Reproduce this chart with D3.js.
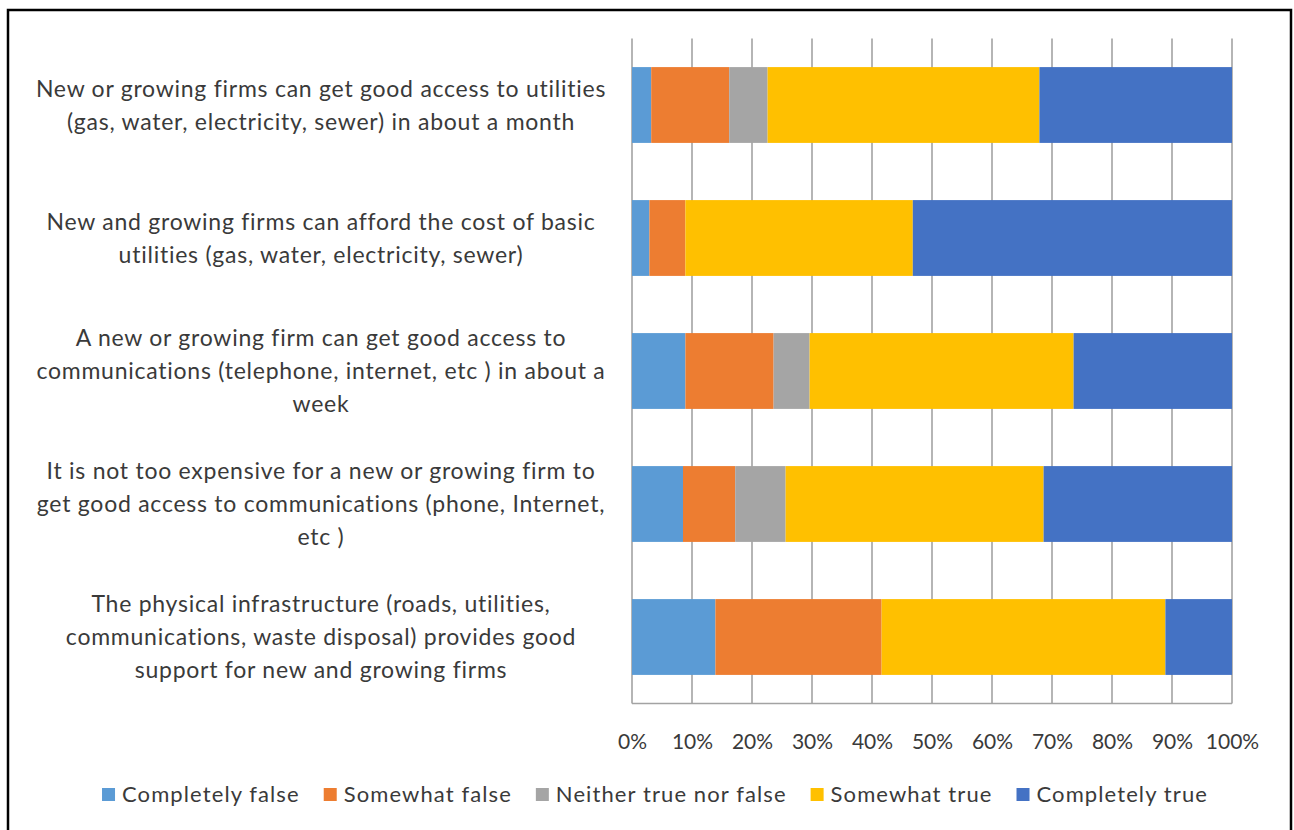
<!DOCTYPE html>
<html>
<head>
<meta charset="utf-8">
<script src="https://cdn.jsdelivr.net/npm/d3@7"></script>
<style>
  html, body { margin: 0; padding: 0; background: #fff; }
  svg { display: block; }
  text { font-family: Lato, "Open Sans", sans-serif; fill: #3a3a3a; }
</style>
</head>
<body>
<svg id="chart" width="1294" height="830"></svg>
<script>
// Survey statements (one bar each), top to bottom; "\n" marks a line break
const categories = [
  "New or growing firms can get good access to utilities\n(gas, water, electricity, sewer) in about a month",
  "New and growing firms can afford the cost of basic\nutilities (gas, water, electricity, sewer)",
  "A new or growing firm can get good access to\ncommunications (telephone, internet, etc ) in about a\nweek",
  "It is not too expensive for a new or growing firm to\nget good access to communications (phone, Internet,\netc )",
  "The physical infrastructure (roads, utilities,\ncommunications, waste disposal) provides good\nsupport for new and growing firms"
];

// Response shares, percent of respondents per statement
const seriesNames = ["Completely false", "Somewhat false", "Neither true nor false", "Somewhat true", "Completely true"];
const completelyFalse = [3.2, 2.9, 8.9, 8.5, 13.9];
const somewhatFalse   = [13.0, 6.0, 14.7, 8.7, 27.7];
const neitherTF       = [6.4, 0.0, 6.0, 8.4, 0.0];
const somewhatTrue    = [45.3, 37.9, 44.0, 43.0, 47.3];
const completelyTrue  = [32.1, 53.2, 26.4, 31.4, 11.1];

const tickValues = [0, 10, 20, 30, 40, 50, 60, 70, 80, 90, 100];
const tickLabels = ["0%", "10%", "20%", "30%", "40%", "50%", "60%", "70%", "80%", "90%", "100%"];

const seriesColors = ["#5B9BD5", "#ED7D31", "#A5A5A5", "#FFC000", "#4472C4"];

// Build rows for d3.stack
const seriesValues = [completelyFalse, somewhatFalse, neitherTF, somewhatTrue, completelyTrue];
const rows = categories.map((c, i) => {
  const r = { category: c };
  seriesNames.forEach((s, k) => { r[s] = seriesValues[k][i]; });
  return r;
});
const stacked = d3.stack().keys(seriesNames)(rows);

const svg = d3.select("#chart");

// Chart frame
svg.append("rect")
  .attr("x", 8).attr("y", 10)
  .attr("width", 1283).attr("height", 840)
  .attr("fill", "#fff")
  .attr("stroke", "#000").attr("stroke-width", 2.5);

const plot = { left: 632, right: 1232, top: 38.5, bottom: 703.5 };

const x = d3.scaleLinear().domain([0, 100]).range([plot.left, plot.right]);
const y = d3.scaleBand().domain(categories)
  .range([plot.top, plot.bottom])
  .paddingInner(0.43).paddingOuter(0.215);

// Vertical gridlines (including the category axis at 0%)
svg.append("g")
  .selectAll("line")
  .data(tickValues)
  .join("line")
  .attr("x1", d => x(d)).attr("x2", d => x(d))
  .attr("y1", plot.top).attr("y2", plot.bottom)
  .attr("stroke", "#a3a3a3").attr("stroke-width", 1.6);

// Bottom edge of the plot area
svg.append("line")
  .attr("x1", plot.left).attr("x2", plot.right)
  .attr("y1", plot.bottom).attr("y2", plot.bottom)
  .attr("stroke", "#a3a3a3").attr("stroke-width", 1.6);

// Stacked bars
svg.append("g")
  .selectAll("g")
  .data(stacked)
  .join("g")
  .attr("fill", (d, i) => seriesColors[i])
  .selectAll("rect")
  .data(d => d)
  .join("rect")
  .attr("x", d => x(d[0]))
  .attr("width", d => x(d[1]) - x(d[0]))
  .attr("y", d => y(d.data.category))
  .attr("height", y.bandwidth());

// X axis tick labels
const xAxis = d3.axisBottom(x)
  .tickValues(tickValues)
  .tickFormat((d, i) => tickLabels[i])
  .tickSize(0)
  .tickPadding(0);
const gx = svg.append("g")
  .attr("transform", `translate(0, ${plot.bottom})`)
  .call(xAxis);
gx.select(".domain").remove();
gx.selectAll("text")
  .attr("y", 45)
  .attr("dy", null)
  .attr("font-family", "Lato, sans-serif")
  .attr("font-size", 21)
  .attr("fill", "#3a3a3a");

// Category labels, centred to the left of the bars
const labelX = 321;
const lineH = 33;
const labels = svg.append("g")
  .selectAll("text")
  .data(categories)
  .join("text")
  .attr("text-anchor", "middle")
  .attr("font-size", 23)
  .attr("letter-spacing", 0.75);
labels.each(function (d) {
  const lines = d.split("\n");
  const cy = y(d) + y.bandwidth() / 2;
  const first = cy - (lines.length - 1) * lineH / 2 + 8;
  d3.select(this).selectAll("tspan")
    .data(lines)
    .join("tspan")
    .attr("x", labelX)
    .attr("y", (l, i) => first + i * lineH)
    .text(l => l);
});

// Legend
const legend = svg.append("g");
const items = legend.selectAll("g")
  .data(seriesNames)
  .join("g");
items.append("rect")
  .attr("width", 13).attr("height", 13)
  .attr("y", -14)
  .attr("fill", (d, i) => seriesColors[i]);
items.append("text")
  .attr("x", 20)
  .attr("font-size", 22)
  .attr("letter-spacing", 1.1)
  .text(d => d);
let cursor = 0;
items.each(function () {
  const w = d3.select(this).select("text").node().getComputedTextLength();
  d3.select(this).attr("transform", `translate(${cursor},0)`);
  cursor += 20 + w + 24;
});
const legendWidth = cursor - 24;
legend.attr("transform", `translate(${655 - legendWidth / 2}, 802)`);
</script>
</body>
</html>
